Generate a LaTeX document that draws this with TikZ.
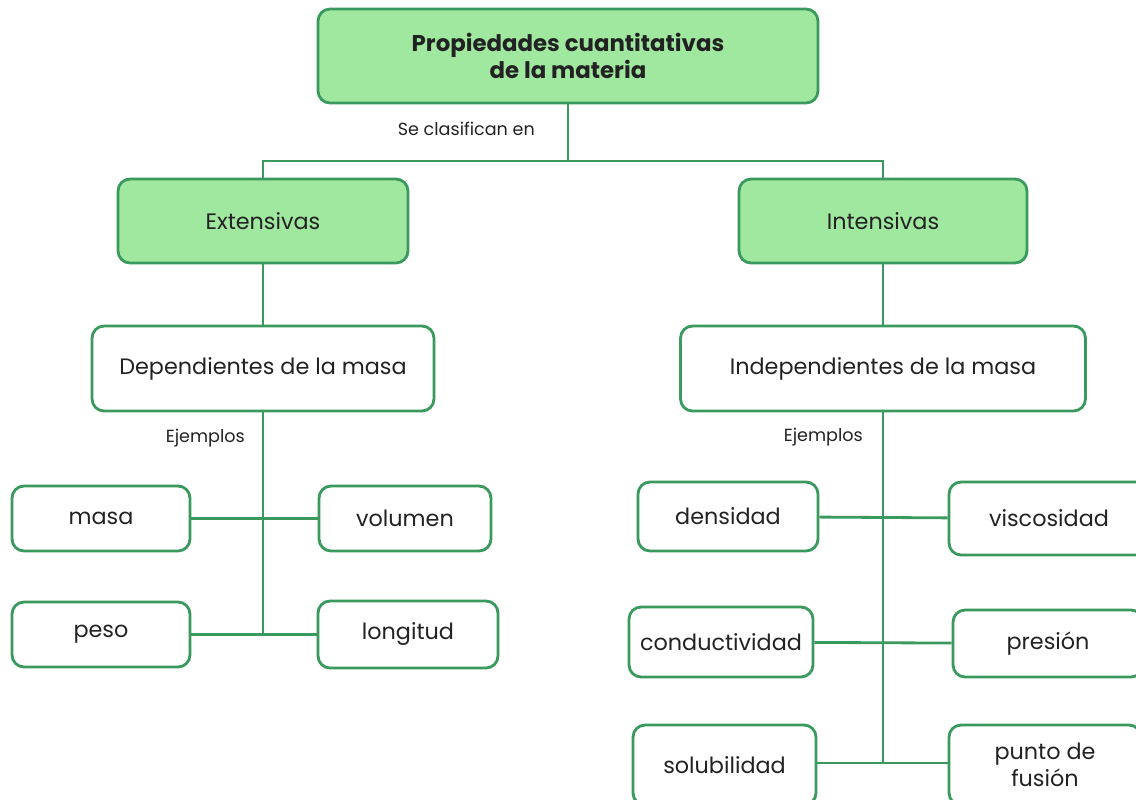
\documentclass[tikz,border=0pt]{standalone}
\usepackage{fontspec}
\setmainfont{Poppins}
\usepackage{tikz}
\definecolor{MatGreen}{HTML}{3A9A5E}
\definecolor{MatFill}{HTML}{A0E8A0}
\definecolor{MatText}{HTML}{222222}
\tikzset{
  base/.style={draw=MatGreen,line width=1.6pt,rounded corners=0.24cm,
    align=center,text=MatText,inner sep=0pt,font=\fontsize{12.7}{15}\selectfont},
  headbox/.style={base,fill=MatFill},
  itembox/.style={base,fill=white},
  link/.style={draw=MatGreen,line width=1.6pt},
  tag/.style={text=MatText,font=\fontsize{10}{12}\selectfont,anchor=east}
}

\begin{document}
\begin{tikzpicture}[x=0.02cm,y=-0.02cm]
  \useasboundingbox (0,0) rectangle (1136,799);
  \clip (0,0) rectangle (1136,799);
  % top level
  \node[headbox,minimum width=10cm,minimum height=1.88cm,
    font=\bfseries\fontsize{13}{15.5}\selectfont] (top) at (568,56)
    {Propiedades cuantitativas\\de la materia};
  \node[headbox,minimum width=5.8cm,minimum height=1.68cm] (ext) at (263,221) {Extensivas};
  \node[headbox,minimum width=5.76cm,minimum height=1.68cm] (int) at (883,221) {Intensivas};
  \node[itembox,minimum width=6.84cm,minimum height=1.7cm] (dep) at (263,368.5)
    {Dependientes de la masa};
  \node[itembox,minimum width=8.1cm,minimum height=1.7cm] (indep) at (883,368.5)
    {Independientes de la masa};
  % left examples
  \node[itembox,minimum width=3.56cm,minimum height=1.3cm] (masa) at (101,518.5) {masa};
  \node[itembox,minimum width=3.44cm,minimum height=1.3cm] (volumen) at (405,518.5) {volumen};
  \node[itembox,minimum width=3.56cm,minimum height=1.3cm] (peso) at (101,634.5) {peso};
  \node[itembox,minimum width=3.6cm,minimum height=1.34cm] (longitud) at (408,634.5) {longitud};
  % right examples
  \node[itembox,minimum width=3.6cm,minimum height=1.38cm] (densidad) at (728,516.5) {densidad};
  \node[itembox,minimum width=4cm,minimum height=1.46cm] (viscosidad) at (1049,518.5) {viscosidad};
  \node[itembox,minimum width=3.68cm,minimum height=1.4cm] (conduct) at (721,642) {conductividad};
  \node[itembox,minimum width=3.8cm,minimum height=1.34cm] (presion) at (1048,643.5) {presión};
  \node[itembox,minimum width=3.66cm,minimum height=1.6cm] (solub) at (724.5,765) {solubilidad};
  \node[itembox,minimum width=3.84cm,minimum height=1.6cm] (fusion) at (1045,765)
    {punto de\\fusión};
  % labels
  \node[tag] (clasif) at (541,129) {Se clasifican en};
  \node[tag] (ejl) at (251,438) {Ejemplos};
  \node[tag] (ejr) at (869,437) {Ejemplos};
  % connectors
  \coordinate (split) at (568,161);
  \coordinate (lbot) at (263,634.5);
  \coordinate (rbot) at (883,763);
  \draw[link] (top.south) -- (split);
  \draw[link] (ext.north) |- (split) -| (int.north);
  \draw[link] (ext) -- (dep);
  \draw[link] (int) -- (indep);
  \draw[link] (dep) -- (lbot);
  \draw[link] (masa) -- (volumen);
  \draw[link] (peso) -- (longitud);
  \draw[link] (indep) -- (rbot);
  \draw[link] (densidad) -- (viscosidad);
  \draw[link] (conduct) -- (presion);
  \draw[link] (solub.east |- rbot) -- (fusion.west |- rbot);
\end{tikzpicture}
\end{document}
